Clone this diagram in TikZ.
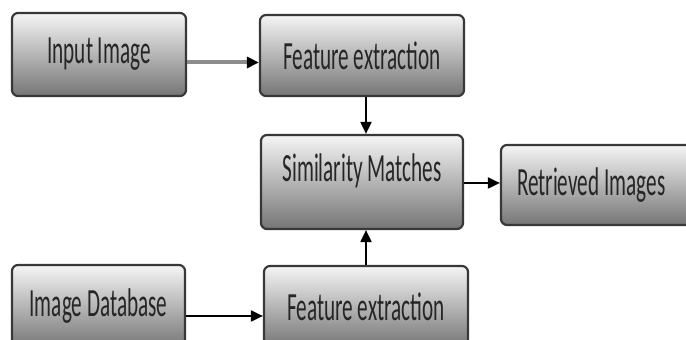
\documentclass[tikz,border=0pt]{standalone}
\usepackage{fontspec}
\setmainfont[FakeStretch=0.53]{Carlito}
\usetikzlibrary{arrows.meta}

\tikzset{
  stage/.style={draw=black!78,line width=1.1pt,rounded corners=3pt,
    top color=black!4,bottom color=black!54,
    text=black!85,font=\fontsize{20}{24}\selectfont,inner sep=0pt},
  flow/.style={line width=1pt,-{Triangle[length=6pt,width=5.5pt,black]}},
}

\begin{document}
\begin{tikzpicture}[x=0.5pt,y=-0.5pt]
\useasboundingbox (0,0) rectangle (686,340);
\clip (0,0) rectangle (686,340);
\node[stage,minimum width=87pt,minimum height=41.5pt] (inimg) at (99,54.5) {Input Image};
\node[stage,minimum width=102pt,minimum height=40.5pt] (fea1) at (362,55.5) {Feature extraction};
\node[stage,minimum width=101pt,minimum height=47pt,text depth=14pt] (simm) at (362,182) {Similarity Matches};
\node[stage,minimum width=100pt,minimum height=40pt,text width=84pt,align=flush left] (retr) at (601,185) {Retrieved Images};
\node[stage,minimum width=86.5pt,minimum height=41.5pt] (imdb) at (98.5,306.5) {Image Database};
\node[stage,minimum width=102pt,minimum height=40.5pt] (fea2) at (366,306.5) {Feature extraction};
\draw[flow,line width=2pt,draw=black!45] ([yshift=-4pt]inimg.east) -- ([yshift=-4pt]inimg.east -| fea1.west);
\draw[flow] ([xshift=2pt]fea1.south) -- ([xshift=2pt]fea1.south |- simm.north);
\draw[flow] ([yshift=-0.5pt]simm.east) -- ([yshift=-0.5pt]simm.east -| retr.west);
\draw[flow] (fea2.north) -- (fea2.north |- simm.south);
\draw[flow] ([yshift=-4.75pt]imdb.east) -- ([yshift=-4.75pt]imdb.east -| fea2.west);
\end{tikzpicture}
\end{document}
